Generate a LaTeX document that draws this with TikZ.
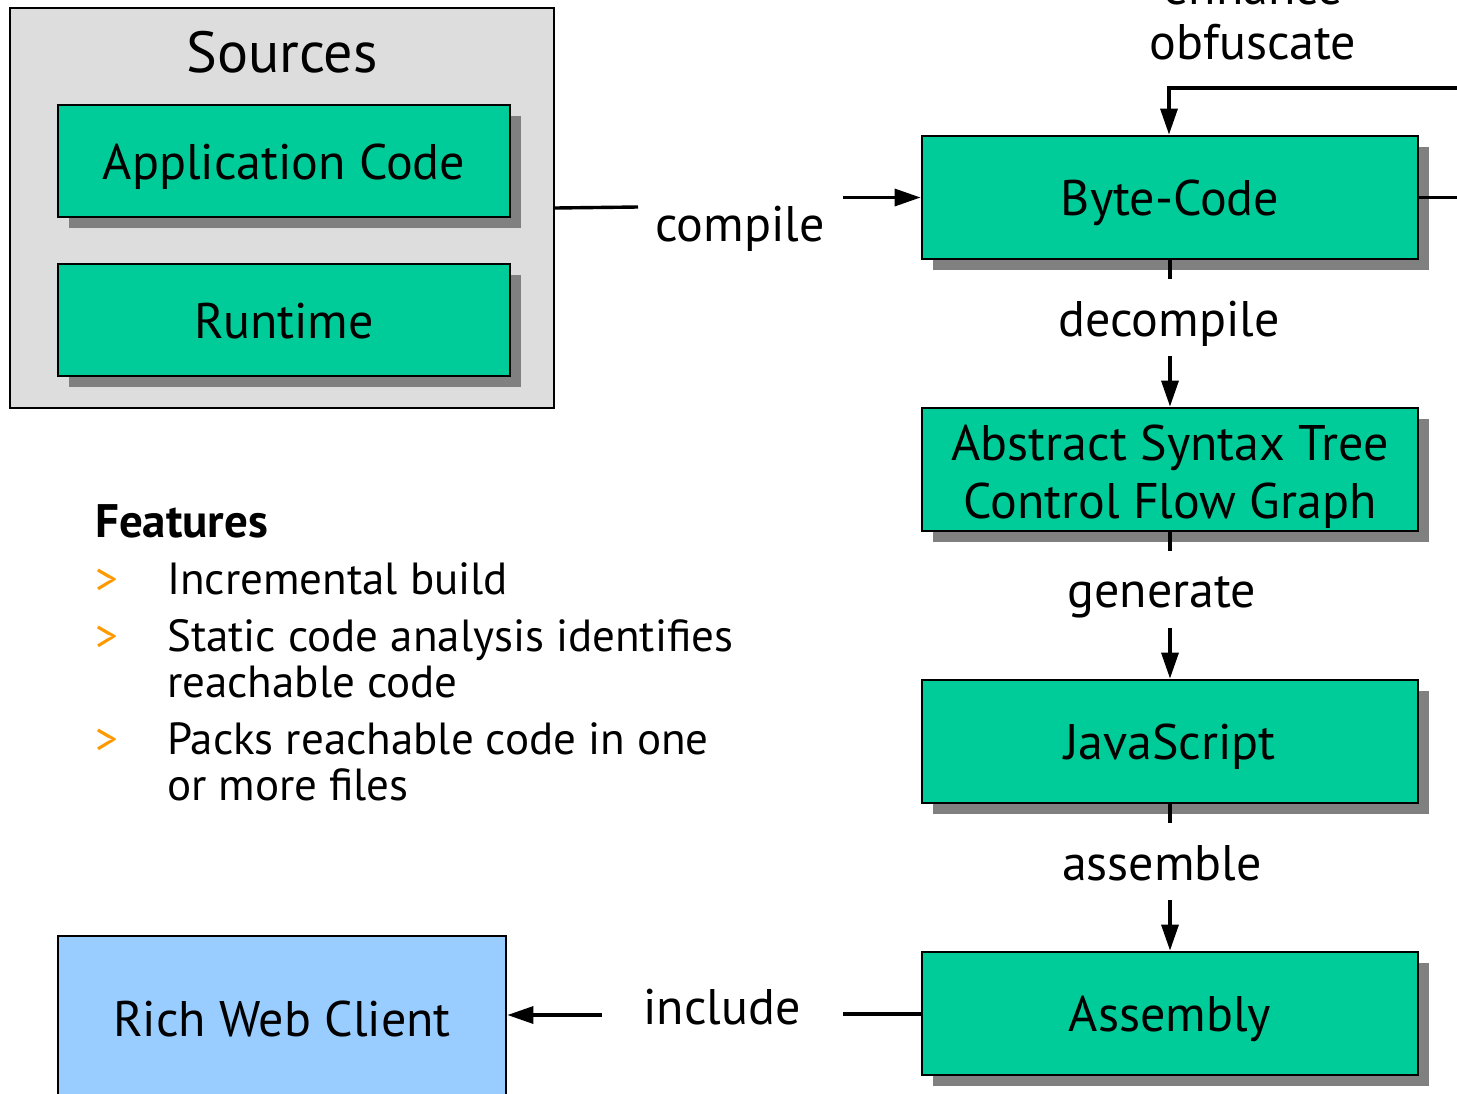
\documentclass[tikz,border=0pt]{standalone}
\usepackage{fontspec}
\setmainfont{PT Sans}
\usetikzlibrary{arrows.meta,shadows}
\definecolor{boxgreen}{HTML}{00CC99}
\definecolor{srcgray}{HTML}{DDDDDD}
\definecolor{shadowgray}{HTML}{808080}
\definecolor{clientblue}{HTML}{99CCFF}
\definecolor{bulletorange}{HTML}{FF9900}
\tikzset{
  boxfont/.style={font=\fontsize{50}{58}\selectfont},
  stagebox/.style={draw=black, line width=2.8pt, fill=boxgreen, inner sep=0pt,
    drop shadow={shadow xshift=11pt, shadow yshift=-11pt, fill=shadowgray, opacity=1},
    boxfont, align=center},
  capcentered/.style={text height=36pt, text depth=0pt},
  conn/.style={line width=3.4pt},
  arr/.style={conn, -{Triangle[length=26pt,width=17pt]}},
  lbl/.style={font=\fontsize{50}{56}\selectfont, inner sep=0pt},
  featfont/.style={font=\fontsize{45}{50}\selectfont},
  feat/.style={featfont, anchor=base west, inner sep=0pt},
  bul/.style={featfont, anchor=base west, inner sep=0pt, text=bulletorange}
}
\begin{document}
\begin{tikzpicture}[x=1pt,y=-1pt]
\useasboundingbox (0,0) rectangle (1457,1093);

% sources group
\node[draw=black, line width=2.2pt, fill=srcgray, minimum width=544pt, minimum height=400pt, inner sep=0pt] (sources) at (282,208) {};
\node[font=\fontsize{58}{64}\selectfont, inner sep=0pt, anchor=base] (srctitle) at (282,72) {Sources};
\node[stagebox, capcentered, minimum width=452pt, minimum height=112pt] (app) at (284,161) {Application Code};
\node[stagebox, capcentered, minimum width=452pt, minimum height=112pt] (rt) at (284,320) {Runtime};

% pipeline stages
\node[stagebox, capcentered, minimum width=496pt, minimum height=123pt] (byte) at (1170,197.5) {Byte-Code};
\node[stagebox, minimum width=496pt, minimum height=123pt, font=\fontsize{50}{58}\selectfont,
  text height=97pt, text depth=0pt] (ast) at (1170,469.5) {Abstract Syntax Tree\\Control Flow Graph};
\node[stagebox, capcentered, minimum width=496pt, minimum height=123pt] (js) at (1170,741.5) {JavaScript};
\node[stagebox, capcentered, minimum width=496pt, minimum height=123pt] (asm) at (1170,1013.5) {Assembly};

% target
\node[draw=black, line width=2.8pt, fill=clientblue, minimum width=448pt, minimum height=164pt, inner sep=0pt,
  boxfont, capcentered] (client) at (282,1018) {Rich Web Client};

% compile
\node[lbl, anchor=base] (lcompile) at (740,241) {compile};
\coordinate (c1) at (638,207);
\coordinate (c2) at (843,197.5);
\draw[conn] (sources.east) -- (c1);
\draw[arr] (c2) -- (byte.west);

% enhance / obfuscate loop
\node[lbl, anchor=base] (lenh) at (1253,4) {enhance};
\node[lbl, anchor=base] (lobf) at (1253,59) {obfuscate};
\coordinate (o1) at (1462,197.5);
\coordinate (o2) at (1462,88);
\draw[conn] (byte.east) -- (o1);
\draw[arr] (o2) -| ([xshift=-1pt]byte.north);

% decompile
\node[lbl, anchor=base] (ldec) at (1169,336) {decompile};
\coordinate (d1) at (1170,279);
\coordinate (d2) at (1170,356);
\draw[conn] (byte.south) -- (d1);
\draw[arr] (d2) -- (ast.north);

% generate
\node[lbl, anchor=base] (lgen) at (1162,607) {generate};
\coordinate (g1) at (1170,551);
\coordinate (g2) at (1170,628);
\draw[conn] (ast.south) -- (g1);
\draw[arr] (g2) -- (js.north);

% assemble
\node[lbl, anchor=base] (lasm) at (1162,880) {assemble};
\coordinate (a1) at (1170,823);
\coordinate (a2) at (1170,900);
\draw[conn] (js.south) -- (a1);
\draw[arr] (a2) -- (asm.north);

% include
\node[lbl, anchor=base] (linc) at (722,1024) {include};
\coordinate (i1) at (843,1014);
\coordinate (i2) at (602,1015);
\draw[conn] (asm.west |- i1) -- (i1);
\draw[arr] (i2) -- (client.east |- i2);

% feature list
\node[feat, font=\fontsize{47}{50}\selectfont\bfseries] (fhead) at (95,537) {Features};
\node[bul] (b1) at (95,594) {>};
\node[feat] (f1) at (167,594) {Incremental build};
\node[bul] (b2) at (95,651) {>};
\node[feat] (f2a) at (167,651) {Static code analysis identifies};
\node[feat] (f2b) at (167,697) {reachable code};
\node[bul] (b3) at (95,754) {>};
\node[feat] (f3a) at (167,754) {Packs reachable code in one};
\node[feat] (f3b) at (167,800) {or more files};
\end{tikzpicture}
\end{document}
